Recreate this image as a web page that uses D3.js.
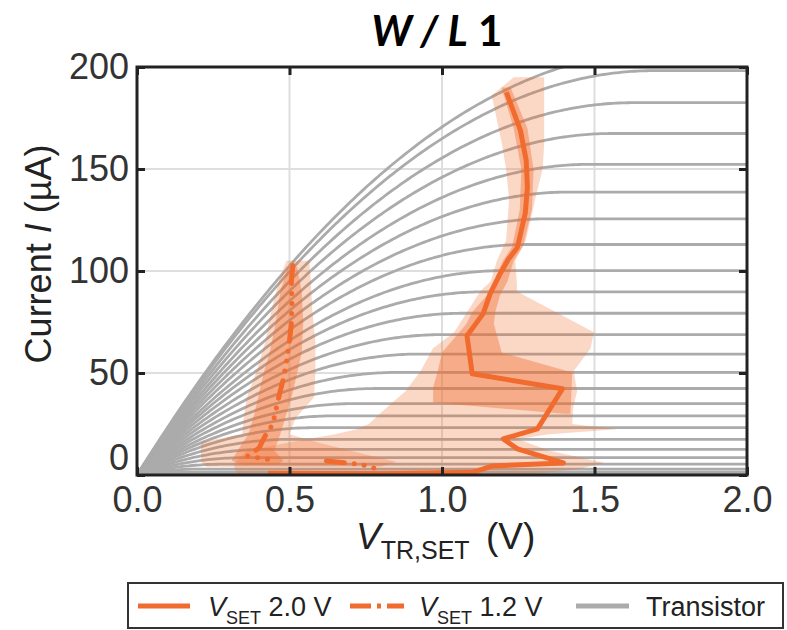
<!DOCTYPE html>
<html>
<head>
<meta charset="utf-8">
<script src="https://cdn.jsdelivr.net/npm/d3@7"></script>
<style>
  body { margin: 0; background: #fff; }
  svg { display: block; }
</style>
</head>
<body>
<svg id="chart" width="787" height="630"></svg>
<script>
// ---- data -------------------------------------------------------------
const xTicks = [0, 0.5, 1.0, 1.5, 2.0];
const yTicks = [0, 50, 100, 150, 200];

// Transistor output family: saturation current of each curve (µA)
const satCurrent = [208, 198.2, 182.5, 167.4, 152.3, 138.7, 125.6, 113, 100.2,
  89.8, 79.3, 68.8, 59.3, 50.3, 42.4, 35.0, 29.0, 23.2, 17.5, 12.6, 8.5, 5.3,
  2.9, 1.4, 0.5, 0.1];
const transK = 138;               // µA/V², square-law gain of the device
const vSweep = d3.range(0, 2.0001, 0.01);

// V_SET 2.0 V : median path
const set20V = [1.211, 1.257, 1.276, 1.280, 1.273, 1.247, 1.217, 1.191, 1.158,
  1.135, 1.082, 1.099, 1.395, 1.313, 1.201, 1.247, 1.398, 1.164, 1.10, 0.80, 0.43];
const set20I = [187.7, 169, 154.3, 141, 128.3, 111.5, 105.6, 98.8, 88.9,
  79.1, 68.3, 49.6, 42.3, 22.6, 17.7, 12.8, 5.9, 4.4, 1.3, 0.6, 0.8];

// V_SET 2.0 V : outer spread
const set20OuterI  = [195, 186, 162, 150, 135, 115, 105, 95, 90, 70, 62, 51, 41, 33, 25, 22.4, 20, 17.5, 12, 6, 3, 0.5];
const set20OuterLo = [1.235, 1.163, 1.197, 1.21, 1.22, 1.21, 1.18, 1.16, 1.125, 1.04, 0.97, 0.93, 0.88, 0.818, 0.76, 0.72, 0.65, 0.555, 0.36, 0.32, 0.32, 0.33];
const set20OuterHi = [1.335, 1.335, 1.335, 1.33, 1.305, 1.275, 1.24, 1.245, 1.246, 1.498, 1.487, 1.432, 1.443, 1.43, 1.427, 1.575, 1.35, 1.25, 1.35, 1.531, 1.45, 1.3];

// V_SET 2.0 V : inner spread
const set20InnerI  = [190, 170, 150, 130, 112, 105, 95, 88, 80, 74, 60, 50.3, 43, 35.5, 30];
const set20InnerLo = [1.195, 1.235, 1.26, 1.255, 1.23, 1.20, 1.17, 1.147, 1.10, 1.08, 1.00, 0.985, 0.971, 0.971, 1.40];
const set20InnerHi = [1.225, 1.28, 1.30, 1.295, 1.265, 1.235, 1.215, 1.19, 1.175, 1.17, 1.196, 1.427, 1.425, 1.423, 1.421];

// V_SET 1.2 V : median path (null = break in the trace)
const set12V = [0.511, 0.506, 0.508, 0.506, 0.500, 0.489, 0.478, 0.462, 0.445,
  0.423, 0.401, 0.363, 0.429, null, 0.621, 0.730, 0.774, 0.796];
const set12I = [102.7, 95.3, 84.0, 74.1, 65.8, 54.4, 46.2, 36.4, 24.9,
  20.0, 13.4, 9.3, 7.7, null, 6.9, 5.3, 3.6, 2.0];

// V_SET 1.2 V : outer spread
const set12OuterI  = [105, 95, 80, 65, 50, 38, 28, 20, 16, 10, 6.5, 4];
const set12OuterLo = [0.49, 0.465, 0.44, 0.42, 0.39, 0.36, 0.35, 0.345, 0.21, 0.21, 0.21, 0.23];
const set12OuterHi = [0.565, 0.57, 0.575, 0.585, 0.585, 0.58, 0.52, 0.50, 0.59, 0.75, 0.85, 0.80];

// V_SET 1.2 V : inner spread
const set12InnerI  = [102, 90, 75, 60, 50, 40, 30, 20, 12, 7, 5];
const set12InnerLo = [0.495, 0.47, 0.455, 0.435, 0.415, 0.40, 0.385, 0.365, 0.33, 0.31, 0.35];
const set12InnerHi = [0.525, 0.54, 0.545, 0.54, 0.525, 0.51, 0.49, 0.47, 0.45, 0.48, 0.46];

const legendLabels = ["2.0 V", "1.2 V", "Transistor"];

// ---- styles -----------------------------------------------------------
const ORANGE = "#f26b2e";
const GRAY = "#ababab";
const FONT = "'Liberation Sans', Arial, Helvetica, sans-serif";

// ---- layout -----------------------------------------------------------
const svg = d3.select("#chart");
const plot = { left: 137, right: 747, top: 67, bottom: 475 };

const x = d3.scaleLinear().domain([0, 2]).range([plot.left, plot.right]);
const y = d3.scaleLinear().domain([0, 200]).range([plot.bottom, plot.top]);

svg.append("defs").append("clipPath").attr("id", "plotClip")
  .append("rect")
  .attr("x", plot.left).attr("y", plot.top)
  .attr("width", plot.right - plot.left).attr("height", plot.bottom - plot.top);

// grid
const grid = svg.append("g").attr("stroke", "#dedede").attr("stroke-width", 2);
grid.selectAll("line.gx").data(xTicks.slice(1, -1)).join("line")
  .attr("x1", d => x(d)).attr("x2", d => x(d))
  .attr("y1", plot.top).attr("y2", plot.bottom);
grid.selectAll("line.gy").data(yTicks.slice(1, -1)).join("line")
  .attr("y1", d => y(d)).attr("y2", d => y(d))
  .attr("x1", plot.left).attr("x2", plot.right);

const body = svg.append("g").attr("clip-path", "url(#plotClip)");

// transistor curves (square-law: linear region up to the knee, then flat)
const tLine = d3.line().x(d => x(d[0])).y(d => y(d[1]));
const curves = satCurrent.map(isat => {
  const vk = Math.sqrt(2 * isat / transK);
  return vSweep.map(v => [v, v < vk ? transK * (vk * v - v * v / 2) : isat]);
});
body.append("g").selectAll("path").data(curves).join("path")
  .attr("d", tLine)
  .attr("fill", "none")
  .attr("stroke", GRAY)
  .attr("stroke-width", 2.8);

// spread bands
const band = d3.area().y(d => y(d.i)).x0(d => x(d.lo)).x1(d => x(d.hi));
const zipBand = (I, lo, hi) => I.map((v, k) => ({ i: v, lo: lo[k], hi: hi[k] }));
const bands = [
  { d: zipBand(set12OuterI, set12OuterLo, set12OuterHi), o: 0.27 },
  { d: zipBand(set20OuterI, set20OuterLo, set20OuterHi), o: 0.27 },
  { d: zipBand(set12InnerI, set12InnerLo, set12InnerHi), o: 0.4 },
  { d: zipBand(set20InnerI, set20InnerLo, set20InnerHi), o: 0.4 }
];
body.append("g").selectAll("path").data(bands).join("path")
  .attr("d", b => band(b.d))
  .attr("fill", ORANGE)
  .attr("fill-opacity", b => b.o);

// median traces
const mLine = d3.line()
  .defined(d => d.v != null)
  .x(d => x(d.v)).y(d => y(d.i));
const set20 = set20V.map((v, k) => ({ v, i: set20I[k] }));
const set12 = set12V.map((v, k) => ({ v, i: set12I[k] }));

body.append("path").attr("d", mLine(set20))
  .attr("fill", "none").attr("stroke", ORANGE)
  .attr("stroke-width", 5).attr("stroke-linejoin", "round");
body.append("path").attr("d", mLine(set12))
  .attr("fill", "none").attr("stroke", ORANGE)
  .attr("stroke-width", 5).attr("stroke-linecap", "round")
  .attr("stroke-dasharray", "18 10 0 10 0 10 0 10");

// axes: inward ticks on all four sides, labels left and bottom
const tickStyle = g => {
  g.select(".domain").remove();
  g.selectAll(".tick line").attr("stroke", "#222").attr("stroke-width", 3);
  g.selectAll(".tick text")
    .attr("font-family", FONT).attr("font-size", 36).attr("fill", "#333");
};
svg.append("g").attr("transform", `translate(0,${plot.bottom})`)
  .call(d3.axisBottom(x).tickValues(xTicks).tickFormat(d3.format(".1f"))
    .tickSizeInner(-8).tickSizeOuter(0).tickPadding(11))
  .call(tickStyle);
const yAxis = svg.append("g").attr("transform", `translate(${plot.left},0)`)
  .call(d3.axisLeft(y).tickValues(yTicks).tickFormat(d3.format("d"))
    .tickSizeInner(-8).tickSizeOuter(0).tickPadding(8))
  .call(tickStyle);
// the zero label sits a little higher so it clears the x labels
yAxis.selectAll(".tick text").filter(d => d === 0).attr("dy", "-0.16em");
svg.append("g").attr("transform", `translate(0,${plot.top})`)
  .call(d3.axisTop(x).tickValues(xTicks).tickFormat("").tickSizeInner(-8).tickSizeOuter(0))
  .call(tickStyle);
svg.append("g").attr("transform", `translate(${plot.right},0)`)
  .call(d3.axisRight(y).tickValues(yTicks).tickFormat("").tickSizeInner(-8).tickSizeOuter(0))
  .call(tickStyle);

// frame
svg.append("rect")
  .attr("x", plot.left).attr("y", plot.top)
  .attr("width", plot.right - plot.left).attr("height", plot.bottom - plot.top)
  .attr("fill", "none").attr("stroke", "#222").attr("stroke-width", 3);

// title
const title = svg.append("text")
  .attr("x", 437).attr("y", 46).attr("text-anchor", "middle")
  .attr("font-family", "Lato, 'Open Sans', sans-serif")
  .attr("font-weight", "bold").attr("font-size", 42).attr("fill", "#000");
title.append("tspan").attr("font-style", "italic").text("W / L");
title.append("tspan").text(" 1");

// x-axis title
const xt = svg.append("text")
  .attr("x", 356).attr("y", 549)
  .attr("font-family", FONT).attr("font-size", 37).attr("fill", "#222");
xt.append("tspan").attr("font-style", "italic").text("V");
xt.append("tspan").attr("font-size", 25).attr("dy", 10).text("TR,SET");
xt.append("tspan").attr("x", 486).attr("dy", -10).text("(V)");

// y-axis title
const yt = svg.append("text")
  .attr("transform", "translate(51,254) rotate(-90)")
  .attr("text-anchor", "middle")
  .attr("font-family", FONT).attr("font-size", 36).attr("fill", "#222");
yt.append("tspan").text("Current ");
yt.append("tspan").attr("font-style", "italic").text("I");
yt.append("tspan").text(" (µA)");

// legend
const lg = svg.append("g");
lg.append("rect")
  .attr("x", 128).attr("y", 583).attr("width", 655).attr("height", 45)
  .attr("fill", "#fff").attr("stroke", "#333").attr("stroke-width", 2);
const ly = 606;
const items = [
  { x0: 138, x1: 190, tx: 208, color: ORANGE, dash: null, sub: true, label: legendLabels[0] },
  { x0: 350, x1: 404, tx: 419, color: ORANGE, dash: "21 6 4 6", sub: true, label: legendLabels[1] },
  { x0: 576, x1: 629, tx: 646, color: GRAY, dash: null, sub: false, label: legendLabels[2] }
];
items.forEach(it => {
  lg.append("line")
    .attr("x1", it.x0).attr("x2", it.x1).attr("y1", ly).attr("y2", ly)
    .attr("stroke", it.color).attr("stroke-width", 5)
    .attr("stroke-dasharray", it.dash);
  const t = lg.append("text")
    .attr("x", it.tx).attr("y", ly + 10)
    .attr("font-family", FONT).attr("font-size", 27).attr("fill", "#222");
  if (it.sub) {
    t.append("tspan").attr("font-style", "italic").text("V");
    t.append("tspan").attr("font-size", 18).attr("dy", 8).text("SET");
    t.append("tspan").attr("dy", -8).text(" " + it.label);
  } else {
    t.text(it.label);
  }
});
</script>
</body>
</html>
